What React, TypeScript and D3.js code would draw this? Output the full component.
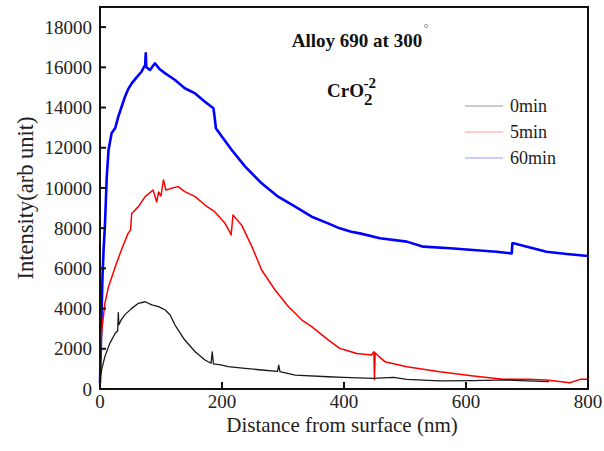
import React from "react";
import * as d3 from "d3";

const xTicks = [0, 200, 400, 600, 800];
const yTicks = [0, 2000, 4000, 6000, 8000, 10000, 12000, 14000, 16000, 18000];

const seriesNames = ["0min", "5min", "60min"];
const seriesColors = ["#1a1a1a", "#ff0000", "#0000ff"];
const legendColors = ["#9a9a9a", "#ff9a9a", "#9a9aff"];

const dist0 = [0, 3, 8, 16, 25, 29, 30, 31, 35, 41, 52, 63, 74, 85, 96, 107, 115, 123, 139, 156, 172, 182, 184, 186, 198, 210, 238, 265, 291, 293, 295, 320, 374, 399, 448, 481, 503, 557, 612, 667, 700, 736];
const int0 = [500, 1000, 1610, 2270, 2770, 2900, 3800, 3200, 3450, 3700, 4010, 4260, 4340, 4180, 4095, 3930, 3680, 3180, 2435, 1855, 1440, 1280, 1850, 1250, 1200, 1110, 1025, 945, 880, 1190, 860, 695, 610, 580, 530, 580, 480, 400, 415, 450, 400, 365];

const dist5 = [0, 3, 8, 14, 25, 35, 46, 50, 52, 63, 74, 87, 93, 96, 100, 104, 108, 117, 128, 139, 156, 172, 188, 205, 213, 215, 218, 225, 232, 249, 265, 276, 287, 309, 320, 331, 347, 374, 393, 402, 421, 445, 449, 450, 451, 459, 467, 503, 557, 612, 661, 700, 732, 770, 787, 800];
const int5 = [1500, 2900, 4260, 5090, 6080, 6910, 7740, 7900, 8730, 9070, 9565, 9900, 9300, 9800, 9600, 10400, 9900, 9980, 10065, 9815, 9565, 9150, 8820, 8240, 7800, 7660, 8655, 8400, 8160, 7080, 5920, 5420, 4925, 4095, 3765, 3430, 3100, 2440, 2020, 1940, 1770, 1690, 1855, 460, 1800, 1570, 1360, 1110, 860, 645, 480, 480, 450, 315, 480, 480];

const dist60 = [0, 2, 4, 6, 8, 11, 14, 19, 25, 30, 35, 41, 46, 52, 60, 68, 74, 75, 76, 82, 90, 98, 107, 123, 139, 156, 172, 186, 188, 190, 200, 216, 238, 265, 292, 320, 347, 374, 393, 412, 426, 459, 503, 530, 574, 612, 650, 675, 676, 678, 700, 732, 765, 800];
const int60 = [300, 3000, 5500, 7000, 8070, 10500, 11890, 12720, 12980, 13545, 14000, 14540, 14900, 15200, 15500, 15780, 16115, 16700, 16000, 15870, 16200, 15900, 15700, 15370, 14960, 14700, 14290, 13960, 13500, 12970, 12550, 11890, 11060, 10230, 9565, 9070, 8570, 8240, 7990, 7825, 7740, 7495, 7330, 7080, 7000, 6915, 6830, 6745, 7250, 7250, 7080, 6830, 6715, 6615];

const FONT = "'Liberation Serif', 'Times New Roman', serif";

export default function App() {
  const left = 100, right = 588, top = 7, bottom = 389;
  const x = d3.scaleLinear().domain([0, 800]).range([left, right]);
  const y = d3.scaleLinear().domain([0, 19000]).range([bottom, top]);
  const line = d3
    .line<[number, number]>()
    .x((d) => x(d[0]))
    .y((d) => y(d[1]));

  const series = [
    { xs: dist0, ys: int0, w: 1.3 },
    { xs: dist5, ys: int5, w: 1.5 },
    { xs: dist60, ys: int60, w: 2.6 },
  ];

  return (
    <svg
      width={604}
      height={451}
      style={{ position: "absolute", left: 0, top: 0, background: "#fff" }}
      fontFamily={FONT}
    >
      <rect x={0} y={0} width={604} height={451} fill="#fff" />
      {[2, 1, 0].map((i) => {
        const s = series[i];
        const pts = s.xs.map((d, k) => [d, s.ys[k]] as [number, number]);
        return (
          <path
            key={i}
            d={line(pts) || ""}
            fill="none"
            stroke={seriesColors[i]}
            strokeWidth={s.w}
            strokeLinejoin="round"
          />
        );
      })}
      <rect x={left} y={top} width={right - left} height={bottom - top} fill="none" stroke="#111" strokeWidth={2} />
      {yTicks.map((t) => (
        <g key={t}>
          <line x1={left} x2={left + 6} y1={y(t)} y2={y(t)} stroke="#111" strokeWidth={2} />
          <text x={92} y={y(t)} dy="0.35em" textAnchor="end" fontSize={19} fill="#222">
            {t}
          </text>
        </g>
      ))}
      {xTicks.map((t) => (
        <g key={t}>
          <line x1={x(t)} x2={x(t)} y1={bottom} y2={bottom - 7} stroke="#111" strokeWidth={2} />
          <text x={x(t)} y={408} textAnchor="middle" fontSize={19} fill="#222">
            {t}
          </text>
        </g>
      ))}
      <text x={342} y={432} textAnchor="middle" fontSize={21} fill="#222">
        Distance from surface (nm)
      </text>
      <text
        transform={`translate(33, 198) rotate(-90)`}
        textAnchor="middle"
        fontSize={22.5}
        fill="#222"
      >
        Intensity(arb unit)
      </text>
      <text x={357} y={47} textAnchor="middle" fontSize={19} fontWeight="bold" fill="#111">
        Alloy 690 at 300
      </text>
      <circle cx={426} cy={26} r={1.6} fill="none" stroke="#888" strokeWidth={0.8} />
      <text x={327} y={97} fontSize={19} fontWeight="bold" fill="#111">
        CrO
        <tspan fontSize={17} dy={8}>2</tspan>
        <tspan fontSize={15} dx={-9} dy={-17}>-2</tspan>
      </text>
      {seriesNames.map((n, i) => (
        <g key={n}>
          <line x1={465} x2={503} y1={106 + i * 26} y2={106 + i * 26} stroke={legendColors[i]} strokeWidth={1.2} />
          <text x={510} y={106 + i * 26} dy="0.35em" fontSize={18} fill="#222">
            {n}
          </text>
        </g>
      ))}
    </svg>
  );
}
